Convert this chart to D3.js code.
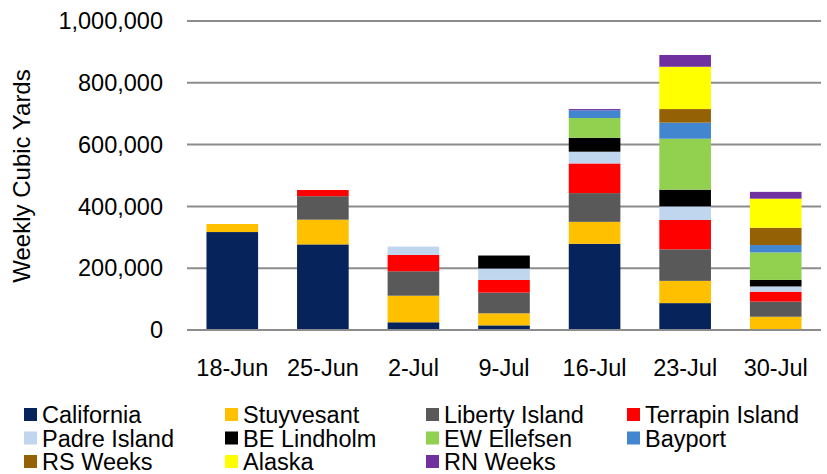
<!DOCTYPE html>
<html lang="en">
<head>
<meta charset="utf-8"/>
<script src="https://d3js.org/d3.v7.min.js"></script>
<style>
    body { margin: 0; background: #fff; }
    svg text { font-family: "Liberation Sans", Arial, sans-serif; fill: #000; }
</style>
</head>
<body>
<svg id="chart" width="827" height="474"></svg>
<script>
    // weeks on the x axis
    const weeks = ["18-Jun", "25-Jun", "2-Jul", "9-Jul", "16-Jul", "23-Jul", "30-Jul"];

    const seriesNames = ["California", "Stuyvesant", "Liberty Island", "Terrapin Island",
        "Padre Island", "BE Lindholm", "EW Ellefsen", "Bayport",
        "RS Weeks", "Alaska", "RN Weeks"];
    const seriesColors = ["#06235b", "#ffc000", "#595959", "#ff0000",
        "#c0d6ef", "#000000", "#92d050", "#4286d0",
        "#956105", "#ffff00", "#7030a0"];

    // weekly cubic yards per dredge
    const california = [317000, 277000, 25000, 15000, 279000, 87000, 0];
    const stuyvesant = [26000, 80000, 86000, 39000, 71000, 72000, 43000];
    const libertyIsland = [0, 76000, 79000, 67000, 93000, 102000, 49000];
    const terrapinIsland = [0, 20000, 53000, 41000, 96000, 95000, 32000];
    const padreIsland = [0, 0, 27000, 37000, 38000, 44000, 17000];
    const beLindholm = [0, 0, 0, 42000, 45000, 54000, 21000];
    const ewEllefsen = [0, 0, 0, 0, 64000, 165000, 89000];
    const bayport = [0, 0, 0, 0, 25000, 52000, 24000];
    const rsWeeks = [0, 0, 0, 0, 0, 44000, 56000];
    const alaska = [0, 0, 0, 0, 0, 137000, 94000];
    const rnWeeks = [0, 0, 0, 0, 4000, 38000, 22000];

    const yTicks = [0, 200000, 400000, 600000, 800000, 1000000];

    const allSeries = [california, stuyvesant, libertyIsland, terrapinIsland, padreIsland,
        beLindholm, ewEllefsen, bayport, rsWeeks, alaska, rnWeeks];

    const rows = weeks.map((w, i) => {
        const r = {week: w};
        seriesNames.forEach((n, j) => r[n] = allSeries[j][i]);
        return r;
    });

    const svg = d3.select("#chart");
    const plotLeft = 187, plotRight = 821, plotTop = 21, plotBottom = 330;
    const fontSize = "23.5px";

    const x = d3.scaleBand().domain(weeks).range([plotLeft, plotRight]).paddingInner(0.43).paddingOuter(0.215);
    const y = d3.scaleLinear().domain([0, 1000000]).range([plotBottom, plotTop]);

    // gridlines
    svg.append("g")
        .selectAll("line")
        .data(yTicks)
        .enter()
        .append("line")
        .attr("x1", plotLeft)
        .attr("x2", plotRight)
        .attr("y1", d => y(d))
        .attr("y2", d => y(d))
        .attr("stroke", "#8c8c8c")
        .attr("stroke-width", 2);

    // y tick labels
    svg.append("g")
        .selectAll("text")
        .data(yTicks)
        .enter()
        .append("text")
        .attr("x", 163)
        .attr("y", d => y(d))
        .attr("dy", "0.35em")
        .attr("text-anchor", "end")
        .style("font-size", fontSize)
        .text(d => d3.format(",")(d));

    svg.append("text")
        .attr("transform", "translate(30,176) rotate(-90)")
        .attr("text-anchor", "middle")
        .style("font-size", "24px")
        .text("Weekly Cubic Yards");

    const stacked = d3.stack().keys(seriesNames)(rows);

    svg.append("g")
        .selectAll("g")
        .data(stacked)
        .enter()
        .append("g")
        .attr("fill", (d, i) => seriesColors[i])
        .selectAll("rect")
        .data(d => d.filter(s => s[1] - s[0] > 0))
        .enter()
        .append("rect")
        .attr("x", d => x(d.data.week))
        .attr("width", x.bandwidth())
        .attr("y", d => y(d[1]))
        .attr("height", d => y(d[0]) - y(d[1]));

    // redraw baseline over bars
    svg.append("line")
        .attr("x1", plotLeft).attr("x2", plotRight)
        .attr("y1", y(0)).attr("y2", y(0))
        .attr("stroke", "#8c8c8c").attr("stroke-width", 2);

    // x labels
    svg.append("g")
        .selectAll("text")
        .data(weeks)
        .enter()
        .append("text")
        .attr("x", d => x(d) + x.bandwidth() / 2)
        .attr("y", 368)
        .attr("dy", "0.35em")
        .attr("text-anchor", "middle")
        .style("font-size", fontSize)
        .text(d => d);

    // legend, 4 columns
    const colX = [24, 225, 426, 627];
    const legend = svg.append("g")
        .selectAll("g")
        .data(seriesNames)
        .enter()
        .append("g")
        .attr("transform", (d, i) => `translate(${colX[i % 4]},${415 + Math.floor(i / 4) * 23.5})`);
    legend.append("rect")
        .attr("x", 0).attr("y", -7)
        .attr("width", 13).attr("height", 13)
        .attr("fill", (d, i) => seriesColors[i]);
    legend.append("text")
        .attr("x", 18)
        .attr("dy", "0.35em")
        .style("font-size", fontSize)
        .text(d => d);
</script>
</body>
</html>
